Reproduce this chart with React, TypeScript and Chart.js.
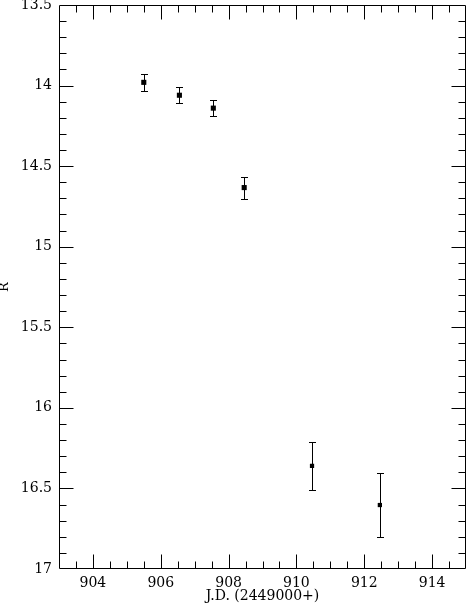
import React, { useEffect, useRef } from "react";
import { Chart, registerables } from "chart.js";

Chart.register(...registerables);

const jd = [905.5, 906.55, 907.55, 908.46, 910.46, 912.46];
const rMag = [13.98, 14.06, 14.14, 14.633, 16.36, 16.603];
const rErr = [0.053, 0.05, 0.05, 0.068, 0.15, 0.2];

const xMajorTicks = [904, 906, 908, 910, 912, 914];
const yMajorTicks = [13.5, 14, 14.5, 15, 15.5, 16, 16.5, 17];
const xMinorStep = 0.5;
const yMinorStep = 0.1;

const xMin = 903;
const xMax = 915;
const yMin = 13.5;
const yMax = 17;

const FONT = "'DejaVu Serif', 'Liberation Serif', serif";

const framePlugin = {
  id: "frameAndErrors",
  afterDatasetsDraw(chart: any) {
    const ctx = chart.ctx;
    const xs = chart.scales.x;
    const ys = chart.scales.y;
    const { left, right, top, bottom } = chart.chartArea;
    const L = Math.round(left) + 0.5;
    const R = Math.round(right) - 0.5;
    const T = Math.round(top) + 0.5;
    const B = Math.round(bottom) - 0.5;
    ctx.save();
    ctx.strokeStyle = "#000";
    ctx.lineWidth = 1;
    ctx.beginPath();
    ctx.rect(L, T, R - L, B - T);
    ctx.stroke();

    const majLen = 14;
    const minLen = 7;
    ctx.beginPath();
    const nx = Math.round((xMax - xMin) / xMinorStep);
    for (let i = 1; i < nx; i++) {
      const v = xMin + i * xMinorStep;
      const isMaj = xMajorTicks.some((t) => Math.abs(t - v) < 1e-6);
      const len = isMaj ? majLen : minLen;
      const px = Math.round(xs.getPixelForValue(v)) + 0.5;
      ctx.moveTo(px, B);
      ctx.lineTo(px, B - len);
      ctx.moveTo(px, T);
      ctx.lineTo(px, T + len);
    }
    const ny = Math.round((yMax - yMin) / yMinorStep);
    for (let i = 1; i < ny; i++) {
      const v = yMin + i * yMinorStep;
      const isMaj = yMajorTicks.some((t) => Math.abs(t - v) < 1e-6);
      const len = isMaj ? majLen : minLen;
      const py = Math.round(ys.getPixelForValue(v)) + 0.5;
      ctx.moveTo(L, py);
      ctx.lineTo(L + len, py);
      ctx.moveTo(R, py);
      ctx.lineTo(R - len, py);
    }
    ctx.stroke();

    const cap = 3.5;
    ctx.beginPath();
    for (let i = 0; i < jd.length; i++) {
      const px = Math.round(xs.getPixelForValue(jd[i])) + 0.5;
      const y1 = Math.round(ys.getPixelForValue(rMag[i] - rErr[i])) + 0.5;
      const y2 = Math.round(ys.getPixelForValue(rMag[i] + rErr[i])) + 0.5;
      ctx.moveTo(px, y1);
      ctx.lineTo(px, y2);
      ctx.moveTo(px - cap, y1);
      ctx.lineTo(px + cap, y1);
      ctx.moveTo(px - cap, y2);
      ctx.lineTo(px + cap, y2);
    }
    ctx.stroke();
    ctx.restore();
  },
};

const zeroPad = (s: any) => {
  s.paddingTop = 0;
  s.paddingBottom = 0;
  s.paddingLeft = 0;
  s.paddingRight = 0;
};

export default function App() {
  const ref = useRef<HTMLCanvasElement | null>(null);
  useEffect(() => {
    document.body.style.margin = "0";
    const canvas = ref.current;
    if (!canvas) return;
    const chart = new Chart(canvas, {
      type: "scatter",
      data: {
        datasets: [
          {
            data: jd.map((x, i) => ({ x, y: rMag[i] })),
            pointStyle: "rect",
            pointRadius: [3.6, 3.6, 3.6, 3.6, 3, 3],
            backgroundColor: "#000",
            borderColor: "#000",
            borderWidth: 0,
          },
        ],
      },
      options: {
        animation: false,
        responsive: false,
        maintainAspectRatio: false,
        layout: { autoPadding: false, padding: { top: 5, left: 0, right: 0, bottom: 0 } },
        plugins: {
          legend: { display: false },
          tooltip: { enabled: false },
        },
        scales: {
          x: {
            type: "linear",
            min: xMin,
            max: xMax,
            border: { display: false },
            grid: { display: false, drawTicks: false },
            afterBuildTicks: (s: any) => {
              s.ticks = xMajorTicks.map((v) => ({ value: v }));
            },
            afterFit: (s: any) => {
              s.height = 36;
              zeroPad(s);
            },
            ticks: {
              color: "#000",
              font: { family: FONT, size: 14 },
              padding: 6,
              maxRotation: 0,
              autoSkip: false,
              callback: (v: any) => String(v),
            },
            title: {
              display: true,
              text: "J.D. (2449000+)",
              color: "#000",
              font: { family: FONT, size: 14 },
              padding: { top: 2, bottom: 0 },
            },
          },
          y: {
            type: "linear",
            reverse: true,
            min: yMin,
            max: yMax,
            border: { display: false },
            grid: { display: false, drawTicks: false },
            afterBuildTicks: (s: any) => {
              s.ticks = yMajorTicks.map((v) => ({ value: v }));
            },
            afterFit: (s: any) => {
              s.width = 59;
              zeroPad(s);
            },
            ticks: {
              color: "#000",
              font: { family: FONT, size: 14 },
              padding: 7,
              autoSkip: false,
              callback: (v: any) => String(v),
            },
            title: {
              display: true,
              text: "R",
              color: "#000",
              font: { family: FONT, size: 13 },
              padding: { top: -3, bottom: 0 },
            },
          },
        },
      },
      plugins: [framePlugin],
    });
    return () => chart.destroy();
  }, []);
  return (
    <div style={{ width: 466, height: 605, position: "relative" }}>
      <canvas ref={ref} width={466} height={605} style={{ display: "block" }} />
    </div>
  );
}
